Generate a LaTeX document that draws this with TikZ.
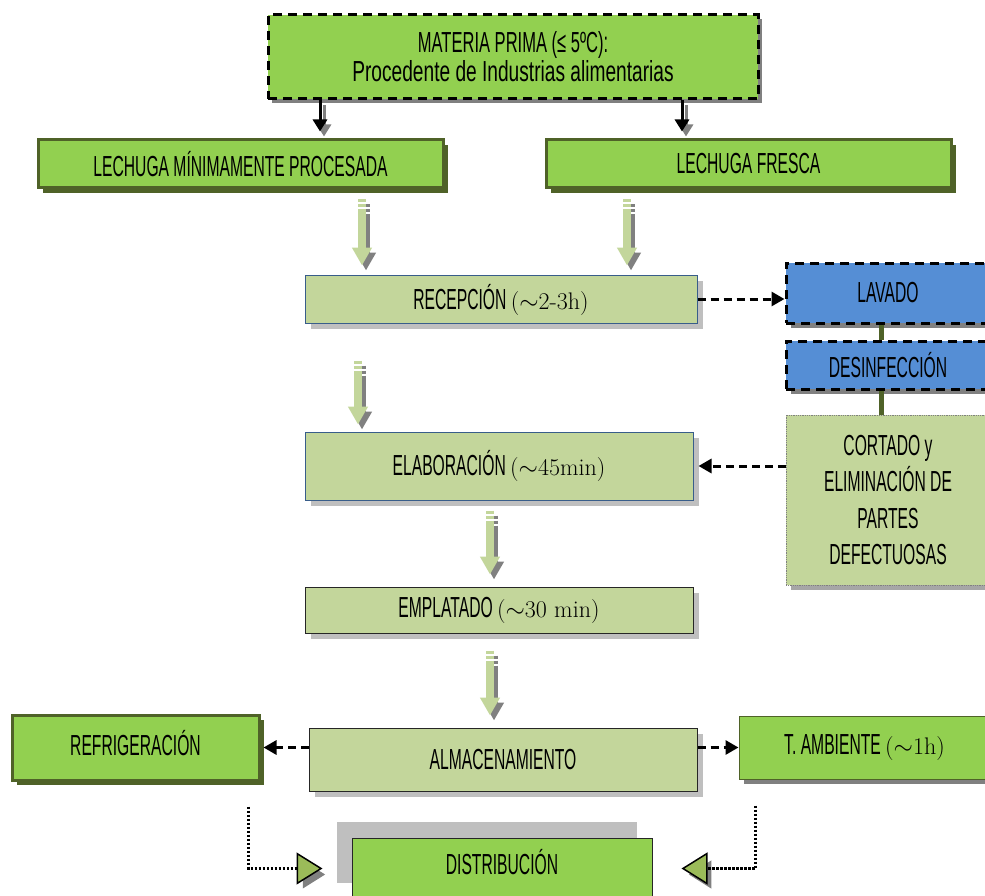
\documentclass[tikz,border=0pt]{standalone}
\usepackage{fontspec}
\usepackage{tikz}
\usetikzlibrary{arrows.meta}
\usetikzlibrary{shadows}
\newfontfamily\agency[FakeStretch=0.54]{Liberation Sans}
\newfontfamily\agencymin[FakeStretch=0.66]{Liberation Sans}
\definecolor{verde}{HTML}{92D050}
\definecolor{verdeclaro}{HTML}{C3D69B}
\definecolor{oliva}{HTML}{4F6228}
\definecolor{azul}{HTML}{558ED5}
\definecolor{azulosc}{HTML}{385D8A}
\definecolor{grisosc}{HTML}{808080}
\definecolor{grismed}{HTML}{A6A6A6}
\definecolor{grisclaro}{HTML}{BFBFBF}
\definecolor{verdepunta}{HTML}{9BBB59}
\newcommand{\tiempo}[1]{{\rmfamily\fontsize{24}{28}\selectfont(\ensuremath{\sim}#1)}}
\newcommand{\sombreado}[4]{%
  \draw[#1, #2, transform canvas={xshift=4pt,yshift=-5pt}] (#3) -- (#4);
  \draw[#1] (#3) -- (#4);}

\tikzset{
  caja/.style={draw, inner sep=0pt, align=center,
    font=\agency\fontsize{29}{31}\selectfont},
  cajaverde/.style={caja, fill=verde, draw=oliva, line width=3pt,
    general shadow={fill=oliva, shadow xshift=5pt, shadow yshift=-5pt}},
  cajaclara/.style={caja, fill=verdeclaro, draw=azulosc, line width=1pt,
    general shadow={fill=grisclaro, shadow xshift=6pt, shadow yshift=-6pt}},
  cajaazul/.style={caja, fill=azul, draw=black, line width=3pt,
    dash pattern=on 9pt off 6pt,
    general shadow={fill=grisosc, shadow xshift=5pt, shadow yshift=-5pt}},
  flechanegra/.style={black, line width=3pt, -{Triangle[length=12pt,width=14pt]}},
  bloque/.style={verdeclaro, line width=8pt, -{Triangle[length=18pt,width=19pt]},
    dash pattern=on 3pt off 2pt on 3pt off 2pt on 400pt off 1pt},
  discont/.style={black, line width=3pt, dash pattern=on 8pt off 5pt,
    -{Triangle[length=13pt,width=14pt]}},
  enlace/.style={oliva, line width=5pt},
  punteado/.style={black, line width=2.5pt, dash pattern=on 2.5pt off 1.5pt,
    -{Triangle[length=26pt,width=32pt,fill=verdepunta,line width=1.5pt]}}
}

\begin{document}
\begin{tikzpicture}[x=1pt,y=-1pt]
\useasboundingbox (0,0) rectangle (985,896);

\node[caja, fill=verde, line width=3pt, dash pattern=on 9pt off 6pt,
  font=\agency\fontsize{29}{29}\selectfont,
  minimum width=490pt, minimum height=84pt,
  general shadow={fill=grisosc, shadow xshift=4pt, shadow yshift=-4pt}]
  (mp) at (513,57) {\fontspec[FakeStretch=0.57]{Liberation Sans}MATERIA PRIMA (≤ 5ºC):\\
  \agencymin Procedente de Industrias alimentarias};

\node[cajaverde, minimum width=405pt, minimum height=48pt] (lmp) at (240.5,164) {LECHUGA MÍNIMAMENTE PROCESADA};
\node[cajaverde, minimum width=405pt, minimum height=48pt] (lf) at (748.5,164) {LECHUGA FRESCA};

\node[cajaclara, minimum width=392pt, minimum height=48pt, text depth=4pt] (rec) at (501,299) {RECEPCIÓN \tiempo{2-3h}};
\node[cajaclara, minimum width=388pt, minimum height=68pt] (ela) at (499,466) {ELABORACIÓN \tiempo{45min}};
\node[cajaclara, draw=black!85, minimum width=388pt, minimum height=46pt] (emp) at (499,610) {EMPLATADO \tiempo{30 min}};
\node[cajaclara, draw=black!85, minimum width=388pt, minimum height=63pt] (alm) at (503,759.5) {ALMACENAMIENTO};

\node[cajaazul, minimum width=204pt, minimum height=60pt] (lav) at (888,293) {LAVADO};
\node[cajaazul, minimum width=204pt, minimum height=48pt] (des) at (888,365) {DESINFECCIÓN};
\node[caja, fill=verdeclaro, draw=grisosc, line width=0.8pt, densely dotted,
  font=\agency\fontsize{29}{36.5}\selectfont,
  minimum width=204pt, minimum height=170pt,
  general shadow={fill=grismed, shadow xshift=5pt, shadow yshift=-5pt}]
  (cort) at (888,500) {CORTADO y\\ELIMINACIÓN DE\\PARTES\\DEFECTUOSAS};

\node[cajaverde, minimum width=247pt, minimum height=65pt, text depth=10pt] (ref) at (135.5,747.5) {REFRIGERACIÓN};
\node[caja, fill=verde, draw=oliva, line width=1pt, minimum width=251pt, minimum height=63pt,
  general shadow={fill=grisosc, shadow xshift=5pt, shadow yshift=-5pt}]
  (tam) at (864.5,747.5) {T. AMBIENTE \tiempo{1h}};
\node[caja, fill=verde, draw=black!85, line width=1pt, minimum width=300pt, minimum height=61pt,
  text depth=14pt,
  general shadow={fill=grisclaro, shadow xshift=-15pt, shadow yshift=16pt}]
  (dis) at (502,868.5) {DISTRIBUCIÓN};

\coordinate (xa) at (320,0);
\coordinate (xb) at (682,0);
\coordinate (xc) at (362,0);
\coordinate (xd) at (627,0);
\coordinate (xe) at (358,0);
\coordinate (xf) at (490,0);
\coordinate (s1) at ([xshift=-12pt,yshift=-25pt]ref.south east);
\coordinate (s2) at ([xshift=17pt,yshift=-26pt]tam.south west);

\sombreado{flechanegra, shorten >=7pt}{grisosc}{mp.south -| xa}{lmp.north -| xa}
\sombreado{flechanegra, shorten >=7pt}{grisosc}{mp.south -| xb}{lf.north -| xb}

\sombreado{bloque, shorten <=10pt, shorten >=9pt}{grisosc}{lmp.south -| xc}{rec.north -| xc}
\sombreado{bloque, shorten <=10pt, shorten >=9pt}{grisosc}{lf.south -| xd}{rec.north -| xd}
\sombreado{bloque, shorten <=37pt, shorten >=7pt}{grisosc}{rec.south -| xe}{ela.north -| xe}
\sombreado{bloque, shorten <=10pt, shorten >=12pt}{grisosc}{ela.south -| xf}{emp.north -| xf}
\sombreado{bloque, shorten <=17pt, shorten >=12pt}{grisosc}{emp.south -| xf}{alm.north -| xf}

\draw[discont] (rec.east) -- (rec.east -| lav.west);
\draw[discont, shorten >=5pt] (cort.west |- ela.east) -- (ela.east);
\draw[discont, shorten >=3pt] (alm.west |- ref.east) -- (ref.east);
\draw[discont] (alm.east |- tam.west) -- (tam.west);

\draw[enlace] ([xshift=-7pt]lav.south) -- ([xshift=-7pt]des.north);
\draw[enlace] ([xshift=-7pt]des.south) -- ([xshift=-7pt]cort.north);

\draw[punteado, draw opacity=0, -{Triangle[length=26pt,width=32pt,fill=grisosc]},
  shorten >=29pt, transform canvas={xshift=5pt,yshift=-6pt}] (s1) |- (dis.west);
\draw[punteado, shorten >=29pt] (s1) |- (dis.west);
\draw[punteado, draw opacity=0, -{Triangle[length=26pt,width=32pt,fill=grisosc]},
  shorten >=29pt, transform canvas={xshift=5pt,yshift=-6pt}] (s2) |- (dis.east);
\draw[punteado, shorten >=29pt] (s2) |- (dis.east);
\end{tikzpicture}
\end{document}
